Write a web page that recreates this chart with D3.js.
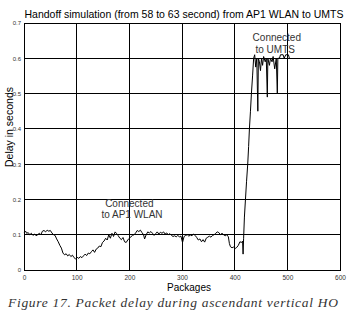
<!DOCTYPE html>
<meta charset="utf-8">
<script src="https://d3js.org/d3.v7.min.js"></script>
<style>
  body { margin: 0; background: #fff; }
</style>
<div id="chart"></div>
<script>
  // packet index and delay (s)
  const packets = [0, 3, 5, 8, 11, 14, 17, 20, 23, 26, 29, 32, 35, 38, 41, 44, 47, 50, 53, 56,
    59, 62, 65, 68, 71, 74, 77, 80, 83, 86, 89, 92, 95, 98, 101, 104, 107, 110, 113, 116,
    119, 122, 125, 128, 131, 134, 137, 140, 143, 146, 149, 152, 155, 158, 161, 164, 167, 170, 173, 176,
    179, 182, 185, 188, 191, 194, 197, 200, 203, 206, 209, 212, 215, 218, 221, 224, 227, 229, 232, 235,
    238, 241, 244, 247, 250, 253, 256, 259, 262, 265, 268, 271, 274, 277, 280, 283, 286, 289, 292, 295,
    298, 301, 304, 307, 310, 313, 316, 319, 322, 325, 328, 331, 334, 337, 340, 343, 346, 349, 352, 355,
    358, 361, 364, 367, 370, 373, 376, 379, 382, 385, 388, 390, 392, 395, 398, 401, 404, 407, 410, 413,
    415, 416, 417, 418.5, 420.5, 422.5, 424.8, 426.5, 428, 430, 431.8, 434, 436, 438, 440, 442, 444, 445, 447, 449,
    451, 453, 455, 458, 460, 462, 463, 466, 468, 471, 473, 476, 479, 481, 482, 485, 487, 492, 494, 497, 502, 504];
  const delay = [0.105, 0.11, 0.104, 0.106, 0.1, 0.104, 0.098, 0.102, 0.097, 0.1, 0.104, 0.1, 0.11, 0.112, 0.108, 0.113, 0.11, 0.112, 0.105, 0.1,
    0.098, 0.088, 0.08, 0.07, 0.062, 0.048, 0.043, 0.046, 0.04, 0.044, 0.038, 0.042, 0.035, 0.031, 0.036, 0.033, 0.038, 0.035, 0.04, 0.045,
    0.041, 0.048, 0.046, 0.052, 0.057, 0.05, 0.059, 0.062, 0.068, 0.066, 0.078, 0.082, 0.09, 0.085, 0.1, 0.09, 0.104, 0.095, 0.108, 0.103,
    0.097, 0.09, 0.086, 0.092, 0.08, 0.078, 0.085, 0.09, 0.094, 0.098, 0.1, 0.105, 0.112, 0.109, 0.113, 0.106, 0.1, 0.088, 0.1, 0.108,
    0.105, 0.109, 0.104, 0.098, 0.103, 0.108, 0.102, 0.107, 0.104, 0.108, 0.102, 0.105, 0.1, 0.103, 0.098, 0.095, 0.097, 0.094, 0.098, 0.094,
    0.096, 0.078, 0.095, 0.098, 0.1, 0.096, 0.099, 0.097, 0.102, 0.098, 0.092, 0.085, 0.088, 0.08, 0.086, 0.079, 0.09, 0.093, 0.096, 0.093,
    0.098, 0.1, 0.104, 0.108, 0.106, 0.1, 0.104, 0.1, 0.097, 0.1, 0.094, 0.075, 0.066, 0.063, 0.065, 0.061, 0.064, 0.07, 0.08, 0.078,
    0.082, 0.045, 0.09, 0.15, 0.2, 0.25, 0.3, 0.35, 0.4, 0.45, 0.5, 0.55, 0.6, 0.61, 0.575, 0.6, 0.45, 0.6, 0.59, 0.565,
    0.6, 0.58, 0.605, 0.59, 0.6, 0.49, 0.6, 0.58, 0.6, 0.59, 0.605, 0.57, 0.6, 0.5, 0.6, 0.6, 0.61, 0.61, 0.6, 0.61, 0.61, 0.6];

  const xTicks = [0, 100, 200, 300, 400, 500, 600];
  const yTicks = [0, 0.1, 0.2, 0.3, 0.4, 0.5, 0.6, 0.7];
  const title = "Handoff simulation (from 58 to 63 second) from AP1 WLAN to UMTS";
  const caption = "Figure 17. Packet delay during ascendant vertical HO";

  const width = 352, height = 320;
  const marginTop = 23, marginRight = 12, marginBottom = 50, marginLeft = 24;
  const sans = "'Liberation Sans', Arial, sans-serif";

  const svg = d3.select("#chart").append("svg")
    .attr("width", width)
    .attr("height", height)
    .style("font-family", sans);

  const x = d3.scaleLinear().domain([0, 600]).range([marginLeft, width - marginRight]);
  const y = d3.scaleLinear().domain([0, 0.7]).range([height - marginBottom, marginTop]);

  // grid
  svg.append("g")
    .attr("stroke", "#000")
    .attr("stroke-width", 1)
    .attr("shape-rendering", "crispEdges")
    .call(g => g.selectAll(".v").data(xTicks.slice(1, -1)).join("line")
      .attr("x1", d => x(d)).attr("x2", d => x(d))
      .attr("y1", y(0)).attr("y2", y(0.7)))
    .call(g => g.selectAll(".h").data(yTicks.slice(1, -1)).join("line")
      .attr("x1", x(0)).attr("x2", x(600))
      .attr("y1", d => y(d)).attr("y2", d => y(d)));

  svg.append("rect")
    .attr("x", x(0)).attr("y", y(0.7))
    .attr("width", x(600) - x(0)).attr("height", y(0) - y(0.7))
    .attr("fill", "none").attr("stroke", "#000")
    .attr("shape-rendering", "crispEdges");

  // axes (labels only)
  svg.append("g")
    .attr("transform", `translate(0,${y(0)})`)
    .call(d3.axisBottom(x).tickValues(xTicks).tickSize(0).tickPadding(5).tickFormat(d3.format("d")))
    .call(g => g.select(".domain").remove())
    .call(g => g.selectAll("text").attr("font-size", 6.5).attr("fill", "#333").style("font-family", sans));

  svg.append("g")
    .attr("transform", `translate(${x(0)},0)`)
    .call(d3.axisLeft(y).tickValues(yTicks).tickSize(0).tickPadding(3).tickFormat(d => d === 0 ? "0" : d3.format(".1f")(d)))
    .call(g => g.select(".domain").remove())
    .call(g => g.selectAll("text").attr("font-size", 6).attr("fill", "#333").style("font-family", sans));

  // the delay line
  const data = packets.map((p, i) => [p, delay[i]]);
  svg.append("path")
    .datum(data)
    .attr("fill", "none")
    .attr("stroke", "#000")
    .attr("stroke-width", 1)
    .attr("stroke-linejoin", "round")
    .attr("d", d3.line().x(d => x(d[0])).y(d => y(d[1])));

  // texts
  svg.append("text")
    .attr("x", 184).attr("y", 18)
    .attr("text-anchor", "middle")
    .attr("font-size", 10.5)
    .text(title);

  svg.append("text")
    .attr("transform", `translate(13,127) rotate(-90)`)
    .attr("text-anchor", "middle")
    .attr("font-size", 10.5)
    .text("Delay in seconds");

  svg.append("text")
    .attr("x", 189).attr("y", 291)
    .attr("text-anchor", "middle")
    .attr("font-size", 10)
    .text("Packages");

  svg.append("text")
    .attr("x", x(200)).attr("y", 207)
    .attr("text-anchor", "middle")
    .attr("font-size", 10)
    .attr("fill", "#333")
    .call(t => t.append("tspan").attr("x", x(200)).text("Connected"))
    .call(t => t.append("tspan").attr("x", x(205)).attr("dy", 11).text("to AP1  WLAN"));

  svg.append("text")
    .attr("x", x(480)).attr("y", 41)
    .attr("text-anchor", "middle")
    .attr("font-size", 10)
    .attr("fill", "#333")
    .call(t => t.append("tspan").attr("x", x(480)).text("Connected"))
    .call(t => t.append("tspan").attr("x", x(477)).attr("dy", 12).text("to UMTS"));

  svg.append("text")
    .attr("x", 8).attr("y", 307)
    .style("font-family", "'Liberation Serif', 'Times New Roman', serif")
    .style("font-style", "italic")
    .style("font-weight", "normal")
    .attr("font-size", 13.5)
    .attr("fill", "#333")
    .attr("textLength", 330)
    .attr("lengthAdjust", "spacing")
    .text(caption);
</script>
